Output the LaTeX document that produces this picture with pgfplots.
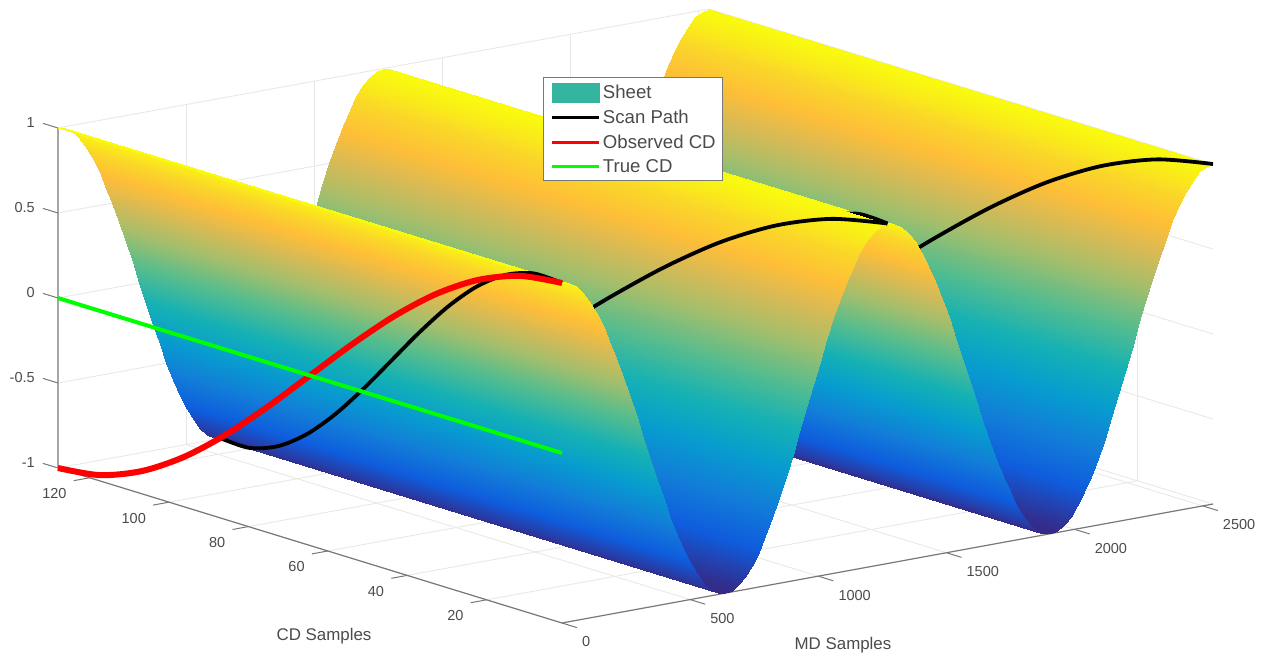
\documentclass[border=0pt]{standalone}
\usepackage{pgfplots}
\pgfplotsset{compat=1.18}
\usepackage{fontspec}
\setmainfont{Liberation Sans}
\definecolor{axgray}{RGB}{120,120,120}
\definecolor{txt}{RGB}{75,75,75}
\definecolor{sheetc}{RGB}{52,181,160}
\pgfplotsset{colormap={parula}{rgb255(0pt)=(53,42,135) rgb255(11pt)=(15,92,221) rgb255(22pt)=(18,125,216) rgb255(33pt)=(7,156,207) rgb255(44pt)=(21,177,180) rgb255(56pt)=(89,189,140) rgb255(67pt)=(165,190,107) rgb255(76pt)=(215,186,85) rgb255(84pt)=(254,190,56) rgb255(92pt)=(250,215,40) rgb255(100pt)=(249,251,14)},
linelegend/.style={legend image code/.code={\path (0pt,0pt); \draw[##1] (2pt,0pt)--(49pt,0pt);}},
sheetlegend/.style={legend image code/.code={\path (0pt,0pt); \fill[sheetc] (2pt,-9.5pt) rectangle (49pt,9.5pt);}}}
\begin{document}
\begin{tikzpicture}[x=1pt,y=1pt]
\path[use as bounding box] (0,0) rectangle (1270,656);
\begin{axis}[
  anchor=origin, at={(562pt,203pt)},
  x={(0.2563pt,0.04685pt)}, y={(-3.969pt,1.2205pt)}, z={(0pt,170pt)},
  xmin=0,xmax=2540,ymin=1,ymax=128,zmin=-1,zmax=1,
  clip=false,
  xtick={0,500,1000,1500,2000,2500},
  ytick={20,40,60,80,100,120},
  ztick={-1,-0.5,0,0.5,1},
  grid=major,
  major grid style={draw=gray!18,line width=0.9pt},
  axis line style={draw=none},
  major tick length=0pt,
  tick style={draw=none},
  tick label style={font=\fontsize{14.5}{16}\selectfont,text=txt,inner sep=0pt},
  xticklabel style={anchor=west,xshift=20pt,yshift=-19pt},
  yticklabel style={anchor=east,xshift=-23pt,yshift=-16pt},
  zticklabel style={anchor=east,xshift=-23pt,yshift=5pt},
  /pgf/number format/assume math mode=true,
  /pgf/number format/1000 sep={},
  point meta min=-1,point meta max=1,
  colormap name=parula,
  xlabel={MD Samples},ylabel={CD Samples},
  xlabel style={at={(axis cs:528.5,-35.67,-1)},anchor=center,yshift=-2pt,font=\fontsize{16.9}{18}\selectfont,text=txt,sloped=false},
  ylabel style={at={(axis cs:-669.9,17.7,-1)},anchor=center,yshift=-2pt,font=\fontsize{16.9}{18}\selectfont,text=txt,sloped=false,rotate=0},
  legend cell align=left,
  legend style={at={(0.5,0.9)},xshift=-92pt,yshift=-7pt,anchor=north west,draw=axgray,line width=1pt,fill=white,font=\fontsize{18.6}{20}\selectfont,text=txt,inner xsep=5pt,inner ysep=5pt,row sep=5.4pt},
]
\addlegendimage{sheetlegend}
\addlegendentry{Sheet}
\addlegendimage{black,line width=3pt,linelegend}
\addlegendentry{Scan Path}
\addlegendimage{red,line width=3pt,linelegend}
\addlegendentry{Observed CD}
\addlegendimage{green,line width=3pt,linelegend}
\addlegendentry{True CD}
% axis lines
\addplot3[forget plot,draw=axgray,line width=1.2pt] coordinates {(0,128,-1)(0,1,-1)(2540,1,-1)};
\addplot3[forget plot,draw=gray!70,line width=1.6pt] coordinates {(0,128,-1)(0,128,1)};
% tick marks
\addplot3[forget plot,unbounded coords=jump,draw=axgray,line width=1pt] coordinates {(0,1,-1)(0,-2.8,-1)(nan,nan,nan)(500,1,-1)(500,-2.8,-1)(nan,nan,nan)(1000,1,-1)(1000,-2.8,-1)(nan,nan,nan)(1500,1,-1)(1500,-2.8,-1)(nan,nan,nan)(2000,1,-1)(2000,-2.8,-1)(nan,nan,nan)(2500,1,-1)(2500,-2.8,-1)};
\addplot3[forget plot,unbounded coords=jump,draw=axgray,line width=1pt] coordinates {(0,20,-1)(-62,20,-1)(nan,nan,nan)(0,40,-1)(-62,40,-1)(nan,nan,nan)(0,60,-1)(-62,60,-1)(nan,nan,nan)(0,80,-1)(-62,80,-1)(nan,nan,nan)(0,100,-1)(-62,100,-1)(nan,nan,nan)(0,120,-1)(-62,120,-1)};
\addplot3[forget plot,unbounded coords=jump,draw=axgray,line width=1pt] coordinates {(0,128,-1)(0,131.8,-1)(nan,nan,nan)(0,128,-.5)(0,131.8,-.5)(nan,nan,nan)(0,128,0)(0,131.8,0)(nan,nan,nan)(0,128,.5)(0,131.8,.5)(nan,nan,nan)(0,128,1)(0,131.8,1)};
% face 4
\addplot3[forget plot,surf,shader=interp,mesh/rows=2,point meta=z] coordinates {
(1905,1,-1)(1931.46,1,-.99144)(1957.92,1,-.96593)(1984.38,1,-.92388)(2010.83,1,-.86603)(2037.29,1,-.79335)(2063.75,1,-.70711)(2090.21,1,-.60876)(2116.67,1,-.5)(2143.13,1,-.38268)(2169.58,1,-.25882)(2196.04,1,-.13053)(2222.5,1,0)(2248.96,1,.13053)(2275.42,1,.25882)(2301.88,1,.38268)(2328.33,1,.5)(2354.79,1,.60876)(2381.25,1,.70711)(2407.71,1,.79335)(2434.17,1,.86603)(2460.63,1,.92388)(2487.08,1,.96593)(2513.54,1,.99144)(2540,1,1)
(1905,128,-1)(1931.46,128,-.99144)(1957.92,128,-.96593)(1984.38,128,-.92388)(2010.83,128,-.86603)(2037.29,128,-.79335)(2063.75,128,-.70711)(2090.21,128,-.60876)(2116.67,128,-.5)(2143.13,128,-.38268)(2169.58,128,-.25882)(2196.04,128,-.13053)(2222.5,128,0)(2248.96,128,.13053)(2275.42,128,.25882)(2301.88,128,.38268)(2328.33,128,.5)(2354.79,128,.60876)(2381.25,128,.70711)(2407.71,128,.79335)(2434.17,128,.86603)(2460.63,128,.92388)(2487.08,128,.96593)(2513.54,128,.99144)(2540,128,1)
};
\addplot3[forget plot,smooth,black,line width=3.8pt] coordinates {(1905,128,-1)(1957.92,117.42,-.96593)(2010.83,106.83,-.86603)(2063.75,96.25,-.70711)(2116.67,85.67,-.5)(2169.58,75.08,-.25882)(2222.5,64.5,0)(2275.42,53.92,.25882)(2328.33,43.33,.5)(2381.25,32.75,.70711)(2434.17,22.17,.86603)(2487.08,11.58,.96593)(2540,1,1)};
% face 3
\addplot3[forget plot,surf,shader=interp,mesh/rows=2,point meta=z] coordinates {
(1270,1,1)(1296.46,1,.99144)(1322.92,1,.96593)(1349.38,1,.92388)(1375.83,1,.86603)(1402.29,1,.79335)(1428.75,1,.70711)(1455.21,1,.60876)(1481.67,1,.5)(1508.13,1,.38268)(1534.58,1,.25882)(1561.04,1,.13053)(1587.5,1,0)(1613.96,1,-.13053)(1640.42,1,-.25882)(1666.88,1,-.38268)(1693.33,1,-.5)(1719.79,1,-.60876)(1746.25,1,-.70711)(1772.71,1,-.79335)(1799.17,1,-.86603)(1825.63,1,-.92388)(1852.08,1,-.96593)(1878.54,1,-.99144)(1905,1,-1)
(1270,128,1)(1296.46,128,.99144)(1322.92,128,.96593)(1349.38,128,.92388)(1375.83,128,.86603)(1402.29,128,.79335)(1428.75,128,.70711)(1455.21,128,.60876)(1481.67,128,.5)(1508.13,128,.38268)(1534.58,128,.25882)(1561.04,128,.13053)(1587.5,128,0)(1613.96,128,-.13053)(1640.42,128,-.25882)(1666.88,128,-.38268)(1693.33,128,-.5)(1719.79,128,-.60876)(1746.25,128,-.70711)(1772.71,128,-.79335)(1799.17,128,-.86603)(1825.63,128,-.92388)(1852.08,128,-.96593)(1878.54,128,-.99144)(1905,128,-1)
};
\addplot3[forget plot,smooth,black,line width=3.8pt] coordinates {(1270,1,1)(1322.92,11.58,.96593)(1375.83,22.17,.86603)(1428.75,32.75,.70711)(1481.67,43.33,.5)(1534.58,53.92,.25882)(1587.5,64.5,0)(1640.42,75.08,-.25882)(1693.33,85.67,-.5)(1746.25,96.25,-.70711)(1799.17,106.83,-.86603)(1852.08,117.42,-.96593)(1905,128,-1)};
% face 2
\addplot3[forget plot,surf,shader=interp,mesh/rows=2,point meta=z] coordinates {
(635,1,-1)(661.46,1,-.99144)(687.92,1,-.96593)(714.38,1,-.92388)(740.83,1,-.86603)(767.29,1,-.79335)(793.75,1,-.70711)(820.21,1,-.60876)(846.67,1,-.5)(873.13,1,-.38268)(899.58,1,-.25882)(926.04,1,-.13053)(952.5,1,0)(978.96,1,.13053)(1005.42,1,.25882)(1031.88,1,.38268)(1058.33,1,.5)(1084.79,1,.60876)(1111.25,1,.70711)(1137.71,1,.79335)(1164.17,1,.86603)(1190.63,1,.92388)(1217.08,1,.96593)(1243.54,1,.99144)(1270,1,1)
(635,128,-1)(661.46,128,-.99144)(687.92,128,-.96593)(714.38,128,-.92388)(740.83,128,-.86603)(767.29,128,-.79335)(793.75,128,-.70711)(820.21,128,-.60876)(846.67,128,-.5)(873.13,128,-.38268)(899.58,128,-.25882)(926.04,128,-.13053)(952.5,128,0)(978.96,128,.13053)(1005.42,128,.25882)(1031.88,128,.38268)(1058.33,128,.5)(1084.79,128,.60876)(1111.25,128,.70711)(1137.71,128,.79335)(1164.17,128,.86603)(1190.63,128,.92388)(1217.08,128,.96593)(1243.54,128,.99144)(1270,128,1)
};
\addplot3[forget plot,smooth,black,line width=3.8pt] coordinates {(635,128,-1)(687.92,117.42,-.96593)(740.83,106.83,-.86603)(793.75,96.25,-.70711)(846.67,85.67,-.5)(899.58,75.08,-.25882)(952.5,64.5,0)(1005.42,53.92,.25882)(1058.33,43.33,.5)(1111.25,32.75,.70711)(1164.17,22.17,.86603)(1217.08,11.58,.96593)(1270,1,1)};
% face 1
\addplot3[forget plot,surf,shader=interp,mesh/rows=2,point meta=z] coordinates {
(0,1,1)(26.46,1,.99144)(52.92,1,.96593)(79.38,1,.92388)(105.83,1,.86603)(132.29,1,.79335)(158.75,1,.70711)(185.21,1,.60876)(211.67,1,.5)(238.13,1,.38268)(264.58,1,.25882)(291.04,1,.13053)(317.5,1,0)(343.96,1,-.13053)(370.42,1,-.25882)(396.88,1,-.38268)(423.33,1,-.5)(449.79,1,-.60876)(476.25,1,-.70711)(502.71,1,-.79335)(529.17,1,-.86603)(555.63,1,-.92388)(582.08,1,-.96593)(608.54,1,-.99144)(635,1,-1)
(0,128,1)(26.46,128,.99144)(52.92,128,.96593)(79.38,128,.92388)(105.83,128,.86603)(132.29,128,.79335)(158.75,128,.70711)(185.21,128,.60876)(211.67,128,.5)(238.13,128,.38268)(264.58,128,.25882)(291.04,128,.13053)(317.5,128,0)(343.96,128,-.13053)(370.42,128,-.25882)(396.88,128,-.38268)(423.33,128,-.5)(449.79,128,-.60876)(476.25,128,-.70711)(502.71,128,-.79335)(529.17,128,-.86603)(555.63,128,-.92388)(582.08,128,-.96593)(608.54,128,-.99144)(635,128,-1)
};
\addplot3[forget plot,smooth,black,line width=3.8pt] coordinates {(0,1,1)(52.92,11.58,.96593)(105.83,22.17,.86603)(158.75,32.75,.70711)(211.67,43.33,.5)(264.58,53.92,.25882)(317.5,64.5,0)(370.42,75.08,-.25882)(423.33,85.67,-.5)(476.25,96.25,-.70711)(529.17,106.83,-.86603)(582.08,117.42,-.96593)(635,128,-1)};
% observed and true CD
\addplot3[forget plot,smooth,red,line width=6pt] coordinates {(0,1,1)(0,11.58,.96593)(0,22.17,.86603)(0,32.75,.70711)(0,43.33,.5)(0,53.92,.25882)(0,64.5,0)(0,75.08,-.25882)(0,85.67,-.5)(0,96.25,-.70711)(0,106.83,-.86603)(0,117.42,-.96593)(0,128,-1)};
\addplot3[forget plot,green,line width=4pt] coordinates {(0,1,0)(0,128,0)};
\end{axis}
\end{tikzpicture}
\end{document}
